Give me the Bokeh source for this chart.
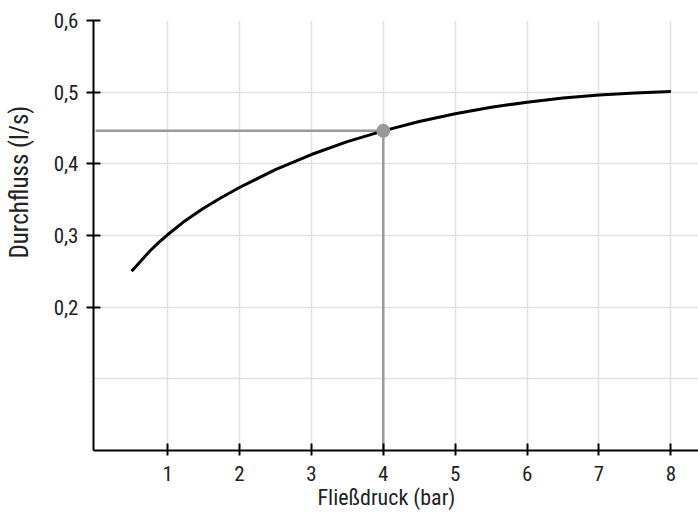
from bokeh.plotting import figure
from bokeh.models import Range1d, FixedTicker, CustomJSTickFormatter, Title
from bokeh.embed import file_html
from bokeh.resources import INLINE

# data
pressure = [0.5, 0.625, 0.75, 0.875, 1.0, 1.25, 1.5, 1.75, 2.0, 2.5, 3.0, 3.5, 4.0,
            4.5, 5.0, 5.5, 6.0, 6.5, 7.0, 7.5, 8.0]
flow = [0.250, 0.264, 0.278, 0.290, 0.301, 0.321, 0.338, 0.353, 0.367, 0.392, 0.413, 0.431, 0.446,
        0.459, 0.470, 0.479, 0.486, 0.492, 0.496, 0.499, 0.501]
marker_pressure = 4.0
marker_flow = 0.446
x_ticks = [1, 2, 3, 4, 5, 6, 7, 8]
y_ticks = [0.2, 0.3, 0.4, 0.5, 0.6]
y_grid = [0.1, 0.2, 0.3, 0.4, 0.5]
x_title = "Fließdruck (bar)"
y_title = "Durchfluss (l/s)"

FONT = "'Roboto Condensed', 'Liberation Sans Narrow', 'DejaVu Sans Condensed', 'Liberation Sans'"

p = figure(width=698, height=514, output_backend="svg", toolbar_location=None,
           x_range=Range1d(-0.03, 8.384), y_range=Range1d(0, 0.6),
           min_border_left=93, min_border_right=0, min_border_top=20, min_border_bottom=64)
p.outline_line_color = None
p.background_fill_color = "white"
p.border_fill_color = "white"

p.xgrid.ticker = FixedTicker(ticks=x_ticks)
p.ygrid.ticker = FixedTicker(ticks=y_grid)
for g in (p.xgrid, p.ygrid):
    g.grid_line_color = "#e2e2e2"
    g.grid_line_width = 1.5

for ax, ticks in ((p.xaxis, x_ticks), (p.yaxis, y_ticks)):
    ax.ticker = FixedTicker(ticks=ticks)
    ax.axis_line_color = "black"
    ax.axis_line_width = 2
    ax.major_tick_line_color = "black"
    ax.major_tick_line_width = 2
    ax.major_tick_in = 7
    ax.major_tick_out = 7
    ax.minor_tick_line_color = None
    ax.major_label_text_font = FONT
    ax.major_label_text_font_size = "21px"
    ax.major_label_text_color = "#222222"
    ax.major_label_standoff = 8
    ax.major_label_text_line_height = 1.0
p.xaxis.major_tick_out = 5
p.xaxis.major_label_standoff = 10
p.yaxis.formatter = CustomJSTickFormatter(code="return tick.toFixed(1).replace('.', ',');")
p.xaxis.formatter = CustomJSTickFormatter(code="return tick.toFixed(0);")

# reference lines to the marked point
p.line([0, marker_pressure], [marker_flow, marker_flow], line_color="#9a9a9a", line_width=2.5)
p.line([marker_pressure, marker_pressure], [0, marker_flow], line_color="#9a9a9a", line_width=2.5)

p.line(pressure, flow, line_color="black", line_width=3, line_join="round")
p.scatter([marker_pressure], [marker_flow], size=14, fill_color="#9a9a9a", line_color=None)

p.add_layout(Title(text=x_title, align="left", offset=224, vertical_align="top",
                   text_font=FONT, text_font_size="22px", text_line_height=1.0,
                   text_font_style="normal", text_color="#222222", standoff=2), "below")
# thin spacer panel between the y axis and its title
p.add_layout(Title(text=" ", text_font_size="1px", standoff=14), "left")
p.add_layout(Title(text=y_title, align="left", offset=192, vertical_align="bottom",
                   text_font=FONT, text_font_size="25px", text_line_height=1.0,
                   text_font_style="normal", text_color="#222222", standoff=0), "left")

open("out.html", "w").write(file_html(p, INLINE))
